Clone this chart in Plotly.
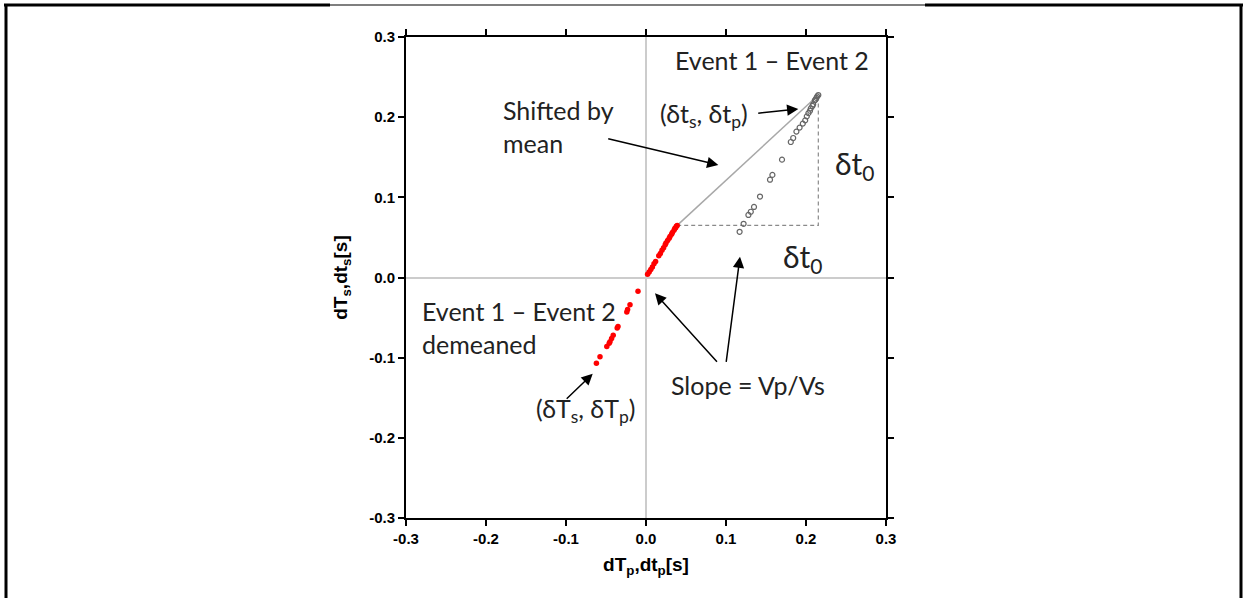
import plotly.graph_objects as go

# ---------------- data ----------------
tick_vals = [-0.3, -0.2, -0.1, 0.0, 0.1, 0.2, 0.3]
tick_text = ["-0.3", "-0.2", "-0.1", "0.0", "0.1", "0.2", "0.3"]

# demeaned differences (red)
demeaned_dTp = [0.002, 0.004, 0.006, 0.008, 0.010, 0.012, 0.016, 0.018, 0.020, 0.022,
                0.024, 0.025, 0.027, 0.029, 0.030, 0.032, 0.033, 0.035, 0.036, 0.037,
                0.038, 0.039,
                -0.010, -0.020, -0.023, -0.024, -0.035, -0.036, -0.041, -0.043, -0.045,
                -0.046, -0.049, -0.0575, -0.062]
demeaned_dTs = [0.004, 0.007, 0.010, 0.013, 0.017, 0.020, 0.027, 0.030, 0.034, 0.037,
                0.041, 0.043, 0.046, 0.049, 0.051, 0.054, 0.056, 0.059, 0.061, 0.062,
                0.064, 0.065,
                -0.017, -0.034, -0.040, -0.043, -0.061, -0.063, -0.072, -0.076, -0.080,
                -0.082, -0.086, -0.099, -0.107]

# raw differences (gray open circles)
raw_dtp = [0.117, 0.122, 0.128, 0.131, 0.135, 0.1425, 0.155, 0.158, 0.170, 0.181,
           0.184, 0.188, 0.192, 0.196, 0.199, 0.201, 0.203, 0.205, 0.206, 0.208,
           0.209, 0.211, 0.212, 0.213, 0.214, 0.2154]
raw_dts = [0.057, 0.067, 0.078, 0.082, 0.088, 0.101, 0.122, 0.128, 0.147, 0.169,
           0.174, 0.182, 0.187, 0.192, 0.196, 0.201, 0.205, 0.208, 0.211, 0.214,
           0.216, 0.221, 0.222, 0.224, 0.226, 0.2276]

# ---------------- figure ----------------
fig = go.Figure()

# shift line and dashed triangle, derived from data extremes
i_r = demeaned_dTs.index(max(demeaned_dTs))
i_g = raw_dts.index(max(raw_dts))
p0 = (demeaned_dTp[i_r], demeaned_dTs[i_r])
p1 = (raw_dtp[i_g], raw_dts[i_g])

fig.add_trace(go.Scatter(x=[p0[0], p1[0]], y=[p0[1], p1[1]], mode="lines",
                         line=dict(color="#a8a8a8", width=1.5), showlegend=False, hoverinfo="skip"))
fig.add_trace(go.Scatter(x=[p0[0], p1[0], p1[0]], y=[p0[1], p0[1], p1[1]], mode="lines",
                         line=dict(color="#8a8a8a", width=1.2, dash="4px,3px"),
                         showlegend=False, hoverinfo="skip"))

fig.add_trace(go.Scatter(x=raw_dtp, y=raw_dts, mode="markers",
                         marker=dict(symbol="circle-open", size=5, color="#666666",
                                     line=dict(width=1.2, color="#666666")),
                         showlegend=False))
fig.add_trace(go.Scatter(x=demeaned_dTp, y=demeaned_dTs, mode="markers",
                         marker=dict(symbol="circle", size=5.5, color="#ff0000"),
                         showlegend=False))

axis_common = dict(
    range=[-0.3, 0.3], tickvals=tick_vals, ticktext=tick_text,
    showline=True, linecolor="black", linewidth=2, mirror="ticks",
    ticks="outside", ticklen=6, tickwidth=1.5, tickcolor="black",
    showgrid=False, zeroline=True, zerolinecolor="#cccccc", zerolinewidth=1.5,
    tickfont=dict(family="Liberation Sans", size=15, color="black", weight="bold"),
)
title_font = dict(family="Liberation Sans", size=19, color="black", weight="bold")
fig.update_xaxes(**axis_common,
                 title=dict(text="dT<sub>p</sub>,dt<sub>p</sub>[s]", font=title_font,
                            standoff=12))
fig.update_yaxes(**axis_common,
                 title=dict(text="dT<sub>s</sub>,dt<sub>s</sub>[s]", font=title_font,
                            standoff=16))

tf = dict(family="Lato", size=25, color="#222222")
big = dict(family="Lato", size=30, color="#222222")

texts = [
    dict(x=0.281, y=0.2715, text="Event 1 – Event 2", xanchor="right", font=tf),
    dict(x=-0.181, y=0.188, text="Shifted by<br>mean", xanchor="left", align="left", font=tf),
    dict(x=0.073, y=0.203, text="(δt<sub>s</sub>, δt<sub>p</sub>)", xanchor="center", font=tf),
    dict(x=0.261, y=0.140, text="δt<sub>0</sub>", xanchor="center", font=big),
    dict(x=0.195, y=0.0243, text="δt<sub>0</sub>", xanchor="center", font=big),
    dict(x=-0.2825, y=-0.0624, text="Event 1 – Event 2<br>demeaned", xanchor="left", align="left", font=tf),
    dict(x=-0.076, y=-0.165, text="(δT<sub>s</sub>, δT<sub>p</sub>)", xanchor="center", font=tf),
    dict(x=0.1275, y=-0.134, text="Slope = Vp/Vs", xanchor="center", font=tf),
]
for t in texts:
    fig.add_annotation(xref="x", yref="y", showarrow=False, yanchor="middle", **t)

arrows = [
    ((0.1384, 0.2048), (0.1904, 0.2103)),
    ((-0.0491, 0.1736), (0.0904, 0.1403)),
    ((-0.101, -0.153), (-0.0666, -0.120)),
    ((0.0904, -0.107), (0.01125, -0.0197)),
    ((0.100, -0.107), (0.1175, 0.026)),
]
for (tail, tip) in arrows:
    fig.add_annotation(x=tip[0], y=tip[1], ax=tail[0], ay=tail[1], xref="x", yref="y",
                       axref="x", ayref="y", text="", showarrow=True,
                       arrowhead=2, arrowsize=1.5, arrowwidth=1.5, arrowcolor="black")

# outer page frame (paper coordinates relative to the plot area)
L, R, T, B = 406, 886, 37, 518
def px(xp):
    return (xp - L) / (R - L)
def py(yp):
    return (B - yp) / (B - T)

frame = [
    (px(6), py(5), px(6), py(600), 3),
    (px(1241), py(5), px(1241), py(600), 3),
    (px(4), py(5), px(330), py(5), 3),
    (px(330), py(5), px(925), py(5), 1.2),
    (px(925), py(5), px(1243), py(5), 3),
]
for x0, y0, x1, y1, w in frame:
    fig.add_shape(type="line", xref="paper", yref="paper", x0=x0, y0=y0, x1=x1, y1=y1,
                  line=dict(color="black", width=w))

fig.update_layout(
    width=1248, height=598,
    margin=dict(l=L, r=1248 - R, t=T, b=598 - B, autoexpand=False),
    plot_bgcolor="white", paper_bgcolor="white",
    showlegend=False,
)

fig.write_html("out.html")
